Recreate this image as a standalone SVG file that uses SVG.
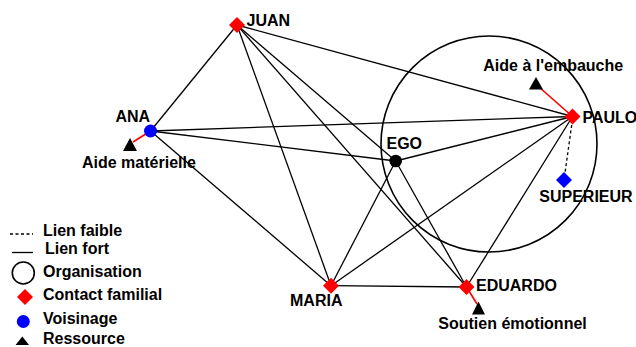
<svg xmlns="http://www.w3.org/2000/svg" width="636" height="347" viewBox="0 0 636 347">
<style>
text{font-family:"Liberation Sans",Arial,sans-serif;font-weight:bold;font-size:16px;fill:#000}
.e{stroke:#000;stroke-width:1.3;fill:none}
.r{stroke:#f00;stroke-width:1.6;fill:none}
.d{stroke:#000;stroke-width:1.3;fill:none;stroke-dasharray:3,2.5}
.fam{fill:#f00}
.voi{fill:#00f}
.res{fill:#000}
.org{fill:none;stroke:#000;stroke-width:1.6}
</style>
<rect width="636" height="347" fill="#fff"/>
<g id="organisation">
<circle class="org" cx="489" cy="144" r="108"/>
</g>
<g id="connectors">
<line class="e" x1="237" y1="25" x2="150.5" y2="131"/>
<line class="e" x1="237" y1="25" x2="572.5" y2="116.5"/>
<line class="e" x1="237" y1="25" x2="395.7" y2="161"/>
<line class="e" x1="237" y1="25" x2="466.5" y2="287"/>
<line class="e" x1="237" y1="25" x2="331" y2="285.7"/>
<line class="e" x1="150.5" y1="131" x2="572.5" y2="116.5"/>
<line class="e" x1="150.5" y1="131" x2="395.7" y2="161"/>
<line class="e" x1="150.5" y1="131" x2="331" y2="285.7"/>
<line class="e" x1="395.7" y1="161" x2="572.5" y2="116.5"/>
<line class="e" x1="395.7" y1="161" x2="331" y2="285.7"/>
<line class="e" x1="395.7" y1="161" x2="466.5" y2="287"/>
<line class="e" x1="572.5" y1="116.5" x2="331" y2="285.7"/>
<line class="e" x1="572.5" y1="116.5" x2="466.5" y2="287"/>
<line class="e" x1="331" y1="285.7" x2="466.5" y2="287"/>
<line class="d" x1="571.7" y1="125" x2="565" y2="173"/>
<line class="r" x1="150.5" y1="131" x2="133" y2="142"/>
<line class="r" x1="572.5" y1="116.5" x2="539" y2="87"/>
<line class="r" x1="466.5" y1="287" x2="477" y2="304"/>
</g>
<g id="juan">
<polygon class="fam" points="237,17 245,25 237,33 229,25"/>
<text x="246.5" y="26">JUAN</text>
</g>
<g id="ana">
<circle class="voi" cx="150.5" cy="131" r="6.5"/>
<text x="115.5" y="121.5">ANA</text>
</g>
<g id="aide-materielle">
<polygon class="res" points="130,138 137,151 123,151"/>
<text x="82" y="167.5">Aide matérielle</text>
</g>
<g id="ego">
<circle class="res" cx="395.7" cy="161" r="6.3"/>
<text x="386.5" y="148.5">EGO</text>
</g>
<g id="paulo">
<polygon class="fam" points="572.5,108.5 580.5,116.5 572.5,124.5 564.5,116.5"/>
<text x="582.5" y="122.5">PAULO</text>
</g>
<g id="aide-embauche">
<polygon class="res" points="536,77 543,89.5 529,89.5"/>
<text x="483.3" y="71">Aide à l'embauche</text>
</g>
<g id="superieur">
<polygon class="voi" points="564,172 572,180 564,188 556,180"/>
<text x="539.3" y="202">SUPERIEUR</text>
</g>
<g id="maria">
<polygon class="fam" points="331,277.7 339,285.7 331,293.7 323,285.7"/>
<text x="290" y="306">MARIA</text>
</g>
<g id="eduardo">
<polygon class="fam" points="466.5,279 474.5,287 466.5,295 458.5,287"/>
<text x="476" y="290.7">EDUARDO</text>
</g>
<g id="soutien">
<polygon class="res" points="478.5,301.5 485,314.5 472,314.5"/>
<text x="438.3" y="328.5">Soutien émotionnel</text>
</g>
<g id="legend">
<line class="d" x1="10" y1="234" x2="33" y2="234"/>
<line class="e" x1="12" y1="252.5" x2="33" y2="252.5"/>
<circle class="org" cx="23.3" cy="273" r="11"/>
<polygon class="fam" points="25,289 33,297 25,305 17,297"/>
<circle class="voi" cx="23.3" cy="321.5" r="6.5"/>
<polygon class="res" points="22.3,336.5 29,345 15.6,345"/>
<text x="43" y="236">Lien faible</text>
<text x="45" y="253.5">Lien fort</text>
<text x="43" y="277">Organisation</text>
<text x="43" y="300">Contact familial</text>
<text x="43" y="323.5">Voisinage</text>
<text x="43" y="343.5">Ressource</text>
</g>
</svg>
